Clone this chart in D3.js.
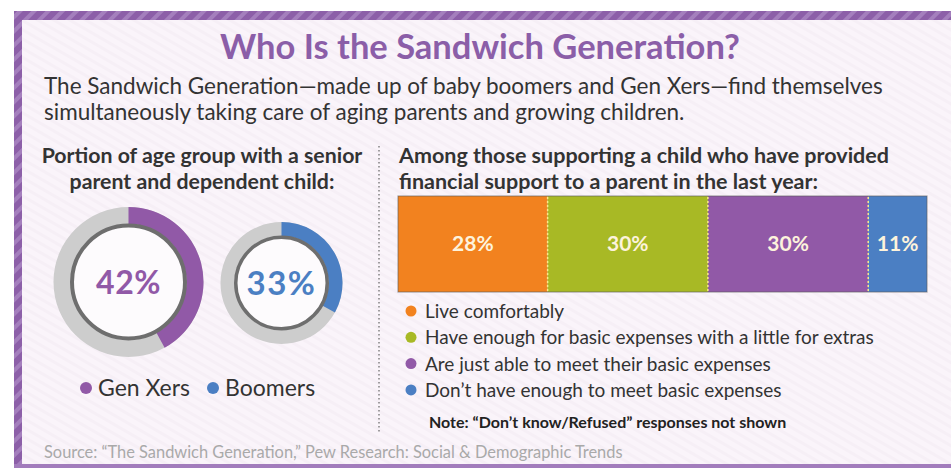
<!DOCTYPE html>
<html><head><meta charset="utf-8">
<script src="https://cdn.jsdelivr.net/npm/d3@7"></script>
<style>
html,body{margin:0;padding:0;background:#fff;}
svg{display:block;font-family:Lato,"Open Sans",sans-serif;}
</style></head>
<body><svg id="c" width="951" height="468"></svg>
<script>
// ---- data ----
const title = "Who Is the Sandwich Generation?";
const subtitleLines = ["The Sandwich Generation\u2014made up of baby boomers and Gen Xers\u2014find themselves",
                       "simultaneously taking care of aging parents and growing children."];
const leftHeading = ["Portion of age group with a senior", "parent and dependent child:"];
const donutGroups = ["Gen Xers", "Boomers"];
const donutValues = [42, 33];
const rightHeading = ["Among those supporting a child who have provided", "financial support to a parent in the last year:"];
const barCategories = ["Live comfortably",
                       "Have enough for basic expenses with a little for extras",
                       "Are just able to meet their basic expenses",
                       "Don\u2019t have enough to meet basic expenses"];
const barValues = [28, 30, 30, 11];
const noteText = "Note: \u201CDon\u2019t know/Refused\u201D responses not shown";
const sourceText = "Source: \u201CThe Sandwich Generation,\u201D Pew Research: Social & Demographic Trends";

// ---- styles ----
const donutColors = ["#9159a7", "#4b7fc3"];
const barColors = ["#f2821f", "#a8b925", "#9159a7", "#4b7fc3"];
const textDark = "#333333";

const svg = d3.select("#c");
const defs = svg.append("defs");
const pat = defs.append("pattern").attr("id","stripe").attr("patternUnits","userSpaceOnUse")
  .attr("width",10).attr("height",10).attr("patternTransform","rotate(45)");
pat.append("rect").attr("width",10).attr("height",10).attr("fill","#8c5fa8");
pat.append("rect").attr("width",4).attr("height",10).attr("fill","#a47fbd");
const bgp = defs.append("pattern").attr("id","bgstripe").attr("patternUnits","userSpaceOnUse")
  .attr("width",8).attr("height",8).attr("patternTransform","rotate(-60)");
bgp.append("rect").attr("width",8).attr("height",8).attr("fill","#faf4fa");
bgp.append("rect").attr("width",3).attr("height",8).attr("fill","#f6eff6");

// frame
svg.append("rect").attr("x",14).attr("y",11).attr("width",937).attr("height",457).attr("fill","url(#stripe)");
svg.append("rect").attr("x",22).attr("y",20).attr("width",929).attr("height",444).attr("fill","url(#bgstripe)");
svg.append("rect").attr("x",14).attr("y",464).attr("width",937).attr("height",4).attr("fill","#a27cbc");

// title + subtitle
svg.append("text").attr("x",480).attr("y",59).attr("text-anchor","middle")
  .attr("font-size",34.5).attr("font-weight",700).attr("fill","#8b5ea8").text(title);
svg.selectAll("text.sub").data(subtitleLines).join("text").attr("class","sub")
  .attr("x",44).attr("y",(d,i)=>94+i*26).attr("font-size",22.5).attr("fill",textDark).text(d=>d);

// left heading
svg.selectAll("text.lh").data(leftHeading).join("text").attr("class","lh")
  .attr("x",202).attr("y",(d,i)=>163+i*26).attr("text-anchor","middle")
  .attr("font-size",21.3).attr("font-weight",700).attr("fill",textDark).text(d=>d);

// divider
svg.append("line").attr("x1",379).attr("x2",379).attr("y1",146).attr("y2",432)
  .attr("stroke","#666").attr("stroke-width",1.2).attr("stroke-dasharray","1.5,2.5");

// donuts
const donutLayout = [{cx:128.5, cy:282, r:75, w:17, ring:4, fs:32},
                     {cx:281.5, cy:283, r:61, w:14, ring:3.5, fs:33}];
const pct = d3.scaleLinear().domain([0,100]).range([0, 2*Math.PI]);
donutValues.forEach((v,i)=>{
  const L = donutLayout[i];
  const g = svg.append("g").attr("transform",`translate(${L.cx},${L.cy})`);
  g.append("path").attr("d", d3.arc().innerRadius(L.r-L.w).outerRadius(L.r).startAngle(0).endAngle(2*Math.PI)())
    .attr("fill","#cdcdcd");
  g.append("path").attr("d", d3.arc().innerRadius(L.r-L.w).outerRadius(L.r).startAngle(0).endAngle(pct(v))())
    .attr("fill",donutColors[i]);
  g.append("circle").attr("r",L.r-L.w-L.ring/2+0.5).attr("fill","#fdfbfd")
    .attr("stroke","#6e6e6e").attr("stroke-width",L.ring);
  g.append("text").attr("y",L.fs*0.36).attr("text-anchor","middle").attr("font-size",L.fs)
    .attr("letter-spacing", i===1 ? 1.5 : 0.5)
    .attr("font-weight",700).attr("fill",donutColors[i]).text(v+"%");
});

// donut legend
const legL = [{x:86},{x:213}];
donutGroups.forEach((n,i)=>{
  svg.append("circle").attr("cx",legL[i].x).attr("cy",388).attr("r",6).attr("fill",donutColors[i]);
  svg.append("text").attr("x",legL[i].x+12).attr("y",396).attr("font-size",23).attr("fill",textDark).text(n);
});

// right heading
svg.selectAll("text.rh").data(rightHeading).join("text").attr("class","rh")
  .attr("x",399).attr("y",(d,i)=>163+i*26)
  .attr("font-size",21.5).attr("font-weight",700).attr("fill",textDark).text(d=>d);

// stacked bar
const total = d3.sum(barValues);
const x = d3.scaleLinear().domain([0,total]).range([398,927]);
const cum = d3.cumsum(barValues);
const segs = barValues.map((v,i)=>({v, x0: cum[i]-v, x1: cum[i], c: barColors[i]}));
const by0 = 196, by1 = 292;
svg.selectAll("rect.seg").data(segs).join("rect").attr("class","seg")
  .attr("x",d=>x(d.x0)).attr("width",d=>x(d.x1)-x(d.x0)).attr("y",by0).attr("height",by1-by0)
  .attr("fill",d=>d.c);
svg.append("rect").attr("x",x(0)).attr("y",by0).attr("width",x(total)-x(0)).attr("height",by1-by0)
  .attr("fill","none").attr("stroke","#5b5b5b").attr("stroke-opacity",0.55).attr("stroke-width",1.2);
svg.selectAll("line.sep").data(segs.slice(1)).join("line").attr("class","sep")
  .attr("x1",d=>x(d.x0)).attr("x2",d=>x(d.x0)).attr("y1",by0+1).attr("y2",by1-1)
  .attr("stroke","#fbe98a").attr("stroke-width",1.5).attr("stroke-dasharray","2,2");
svg.selectAll("text.bl").data(segs).join("text").attr("class","bl")
  .attr("x",d=>(x(d.x0)+x(d.x1))/2).attr("y",(by0+by1)/2+7).attr("text-anchor","middle")
  .attr("font-size",21).attr("font-weight",700).attr("fill","#fdf3dc").text(d=>d.v+"%");

// bar legend
barCategories.forEach((n,i)=>{
  const cy = 311 + i*26.3;
  svg.append("circle").attr("cx",411).attr("cy",cy).attr("r",5.5).attr("fill",barColors[i]);
  svg.append("text").attr("x",425).attr("y",cy+7).attr("font-size",19).attr("fill",textDark).text(n);
});
svg.append("text").attr("x",429).attr("y",428).attr("font-size",16).attr("font-weight",700)
  .attr("fill","#222").text(noteText);
svg.append("text").attr("x",44).attr("y",458).attr("font-size",16.4).attr("fill","#a9a9a9").text(sourceText);
</script></body></html>
